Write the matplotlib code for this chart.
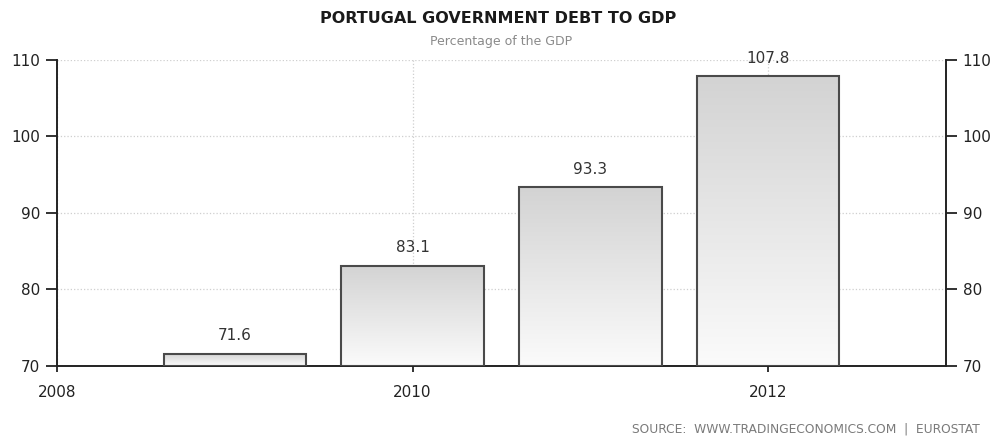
import matplotlib.pyplot as plt
import numpy as np
from matplotlib.colors import LinearSegmentedColormap
from matplotlib.patches import Rectangle

# data
years = [2009, 2010, 2011, 2012]
debt = [71.6, 83.1, 93.3, 107.8]
xticks = [2008, 2010, 2012]
yticks = [70, 80, 90, 100, 110]

title = 'PORTUGAL GOVERNMENT DEBT TO GDP'
subtitle = 'Percentage of the GDP'
source = 'SOURCE:  WWW.TRADINGECONOMICS.COM  |  EUROSTAT'

fig = plt.figure(figsize=(9.96, 4.41), dpi=100)
ax = fig.add_axes([0.0572, 0.170, 0.8926, 0.695])

# grey-to-white gradient per bar
cmap = LinearSegmentedColormap.from_list('bargrad', ['#fbfbfb', '#d3d3d3'])
grad = np.linspace(0, 1, 256).reshape(-1, 1)
width = 0.8
base = 70
for x, v in zip(years, debt):
    x0 = x - width / 2
    ax.imshow(grad, extent=[x0, x0 + width, base, v], origin='lower',
              aspect='auto', cmap=cmap, zorder=2, interpolation='bilinear')
    ax.add_patch(Rectangle((x0, base), width, v - base, fill=False,
                           edgecolor='#4a4a4a', linewidth=1.5, zorder=3))
    ax.text(x, v + 1.4, f'{v:.1f}', ha='center', va='bottom',
            fontsize=11, color='#333333', zorder=4)

ax.set_xlim(2008, 2013)
ax.set_ylim(70, 110)
ax.set_xticks(xticks)
ax.set_yticks(yticks)

ax.grid(True, color='#cfcfcf', linestyle=':', linewidth=0.9, zorder=0)
ax.set_axisbelow(True)

for s in ['left', 'right', 'bottom']:
    ax.spines[s].set_linewidth(1.4)
    ax.spines[s].set_color('#222222')
ax.spines['top'].set_visible(False)

ax.tick_params(axis='y', which='both', left=True, right=True,
               labelleft=True, labelright=True, direction='out',
               length=8, width=1.3, pad=4, labelsize=11, colors='#222222')
ax.tick_params(axis='x', direction='out', length=4, width=1.3, pad=10,
               labelsize=11, colors='#222222')

fig.text(0.5, 0.959, title, ha='center', va='center', fontsize=11.5,
         fontweight='bold', color='#1a1a1a')
fig.text(0.503, 0.905, subtitle, ha='center', va='center', fontsize=9,
         color='#8a8a8a')
fig.text(0.984, 0.012, source, ha='right', va='bottom', fontsize=8.8,
         color='#7a7a7a')

fig.savefig('out.png', dpi=100)
